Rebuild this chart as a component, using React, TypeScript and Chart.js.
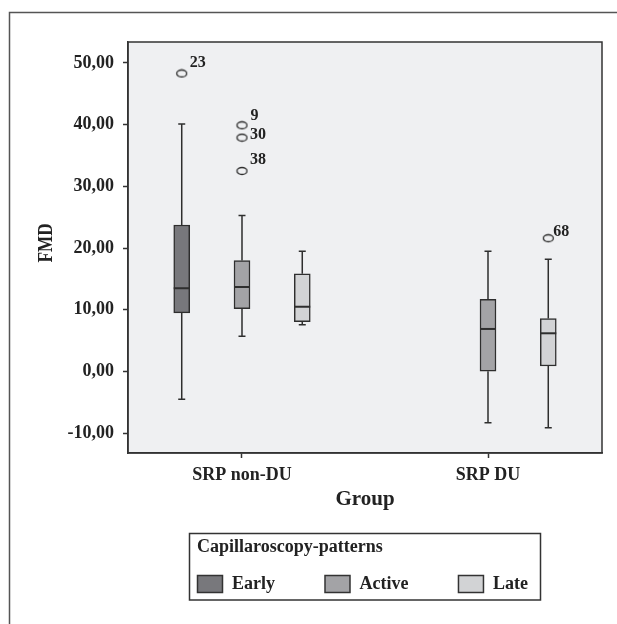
import React, { useEffect, useRef } from 'react';
import { Chart, registerables } from 'chart.js';

Chart.register(...registerables);

// ---------- data ----------
const groups = ['SRP non-DU', 'SRP DU'];
const patterns = ['Early', 'Active', 'Late'];
const yTicks = [-10, 0, 10, 20, 30, 40, 50];
const xTitle = 'Group';
const yTitle = 'FMD';
const legendTitle = 'Capillaroscopy-patterns';

// per pattern, per group (null = no box)
const earlyMin = [-4.5, null];
const earlyQ1 = [9.5, null];
const earlyMedian = [13.5, null];
const earlyQ3 = [23.75, null];
const earlyMax = [40.1, null];

const activeMin = [5.7, -8.3];
const activeQ1 = [10.2, 0.05];
const activeMedian = [13.7, 6.9];
const activeQ3 = [18.0, 11.7];
const activeMax = [25.3, 19.5];

const lateMin = [7.6, -9.1];
const lateQ1 = [8.1, 0.9];
const lateMedian = [10.5, 6.2];
const lateQ3 = [15.85, 8.6];
const lateMax = [19.5, 18.2];

const outlierGroup = [0, 0, 0, 0, 1];
const outlierPattern = [0, 1, 1, 1, 2];
const outlierValue = [48.3, 39.9, 37.9, 32.5, 21.6];
const outlierLabel = ['23', '9', '30', '38', '68'];

// ---------- style ----------
const FONT = "'Liberation Serif', 'Times New Roman', serif";
const TEXT = '#222222';
const LINE = '#2e2e2e';
const FILLS = ['#78787c', '#a3a3a6', '#d2d3d5'];
const SLOT = [-0.245, 0, 0.245];
const BOX_PX = 16;
const CAP_PX = 7;
const LABEL_DX = [8, 8.5, 8, 8, 5];
const LABEL_DY = [-6, -5, 1, -6.5, -2.5];

const stats = [
  { min: earlyMin, q1: earlyQ1, med: earlyMedian, q3: earlyQ3, max: earlyMax },
  { min: activeMin, q1: activeQ1, med: activeMedian, q3: activeQ3, max: activeMax },
  { min: lateMin, q1: lateQ1, med: lateMedian, q3: lateQ3, max: lateMax },
];

function xPos(group: number, pattern: number) {
  return group + 1 + SLOT[pattern];
}

function makeEllipse() {
  const c = document.createElement('canvas');
  c.width = 13;
  c.height = 10;
  const g = c.getContext('2d')!;
  g.strokeStyle = LINE;
  g.lineWidth = 1.3;
  g.beginPath();
  g.ellipse(6.5, 5, 5, 3.5, 0, 0, Math.PI * 2);
  g.stroke();
  return c;
}

const extrasPlugin = {
  id: 'boxExtras',
  beforeDraw(chart: any) {
    const { ctx, chartArea: a } = chart;
    ctx.save();
    ctx.fillStyle = '#ffffff';
    ctx.fillRect(0, 0, chart.width, chart.height);
    ctx.fillStyle = '#eff0f2';
    ctx.fillRect(a.left, a.top, a.right - a.left, a.bottom - a.top);
    // outer frame (left + top)
    ctx.strokeStyle = '#555555';
    ctx.lineWidth = 1.5;
    ctx.beginPath();
    ctx.moveTo(9.5, chart.height);
    ctx.lineTo(9.5, 12.5);
    ctx.lineTo(chart.width, 12.5);
    ctx.stroke();
    ctx.restore();
  },
  afterDatasetsDraw(chart: any) {
    const { ctx, chartArea: a } = chart;
    const xs = chart.scales.x;
    const ys = chart.scales.y;
    ctx.save();
    ctx.strokeStyle = LINE;
    stats.forEach((s, p) => {
      groups.forEach((_, gi) => {
        if (s.q1[gi] == null) return;
        const cx = xs.getPixelForValue(xPos(gi, p));
        const yMin = ys.getPixelForValue(s.min[gi]);
        const yQ1 = ys.getPixelForValue(s.q1[gi]);
        const yMed = ys.getPixelForValue(s.med[gi]);
        const yQ3 = ys.getPixelForValue(s.q3[gi]);
        const yMax = ys.getPixelForValue(s.max[gi]);
        ctx.lineWidth = 1.5;
        ctx.beginPath();
        ctx.moveTo(cx, yQ3);
        ctx.lineTo(cx, yMax);
        ctx.moveTo(cx, yQ1);
        ctx.lineTo(cx, yMin);
        ctx.moveTo(cx - CAP_PX / 2, yMax);
        ctx.lineTo(cx + CAP_PX / 2, yMax);
        ctx.moveTo(cx - CAP_PX / 2, yMin);
        ctx.lineTo(cx + CAP_PX / 2, yMin);
        ctx.stroke();
        ctx.lineWidth = 2;
        ctx.beginPath();
        ctx.moveTo(cx - BOX_PX / 2, yMed);
        ctx.lineTo(cx + BOX_PX / 2, yMed);
        ctx.stroke();
      });
    });
    // outlier labels
    ctx.fillStyle = TEXT;
    ctx.font = `bold 16px ${FONT}`;
    ctx.textAlign = 'left';
    ctx.textBaseline = 'alphabetic';
    outlierValue.forEach((v, i) => {
      const px = xs.getPixelForValue(xPos(outlierGroup[i], outlierPattern[i]));
      const py = ys.getPixelForValue(v);
      ctx.fillText(outlierLabel[i], px + LABEL_DX[i], py + LABEL_DY[i]);
    });
    // plot frame
    ctx.strokeStyle = '#333333';
    ctx.lineWidth = 1.5;
    ctx.strokeRect(a.left, a.top, a.right - a.left, a.bottom - a.top);
    ctx.restore();
  },
  afterDraw(chart: any) {
    const { ctx } = chart;
    ctx.save();
    // y axis title (rotated, slightly condensed like the original)
    ctx.fillStyle = TEXT;
    ctx.translate(46, 243);
    ctx.rotate(-Math.PI / 2);
    ctx.scale(0.82, 1);
    ctx.font = `bold 21px ${FONT}`;
    ctx.textAlign = 'center';
    ctx.textBaseline = 'middle';
    ctx.fillText(yTitle, 0, 1);
    ctx.restore();

    ctx.save();
    // legend box
    const L = 189.5, T = 533.5, R = 540.5, B = 600;
    ctx.fillStyle = '#ffffff';
    ctx.fillRect(L, T, R - L, B - T);
    ctx.strokeStyle = '#333333';
    ctx.lineWidth = 1.5;
    ctx.strokeRect(L, T, R - L, B - T);
    ctx.fillStyle = TEXT;
    ctx.font = `bold 18px ${FONT}`;
    ctx.textAlign = 'left';
    ctx.textBaseline = 'alphabetic';
    ctx.fillText(legendTitle, 197, 552);
    let x = 197.5;
    patterns.forEach((name, i) => {
      ctx.fillStyle = FILLS[i];
      ctx.fillRect(x, 575.5, 25, 17);
      ctx.strokeStyle = '#333333';
      ctx.lineWidth = 1.5;
      ctx.strokeRect(x, 575.5, 25, 17);
      ctx.fillStyle = TEXT;
      ctx.fillText(name, x + 34.5, 588.5);
      x = x + 34.5 + ctx.measureText(name).width + 50;
    });
    ctx.restore();
  },
};

export default function App() {
  const ref = useRef<HTMLCanvasElement | null>(null);

  useEffect(() => {
    document.body.style.margin = '0';
    document.body.style.overflow = 'hidden';
    const canvas = ref.current!;
    const ellipse = makeEllipse();

    const boxDatasets = stats.map((s, p) => ({
      type: 'bar' as const,
      label: patterns[p],
      data: groups
        .map((_, gi) => (s.q1[gi] == null ? null : { x: xPos(gi, p), y: [s.q1[gi], s.q3[gi]] }))
        .filter((d) => d !== null),
      backgroundColor: FILLS[p],
      borderColor: LINE,
      borderWidth: 1.5,
      borderSkipped: false,
      barThickness: BOX_PX,
      grouped: false,
    }));

    const outlierDataset = {
      type: 'scatter' as const,
      label: 'outliers',
      data: outlierValue.map((v, i) => ({ x: xPos(outlierGroup[i], outlierPattern[i]), y: v })),
      pointStyle: ellipse,
      pointRadius: 5,
      showLine: false,
    };

    const tickFont = { family: FONT, size: 18, weight: 'bold' as const };

    const chart = new Chart(canvas, {
      type: 'bar',
      data: { datasets: [...boxDatasets, outlierDataset] as any },
      options: {
        animation: false,
        responsive: false,
        maintainAspectRatio: false,
        layout: { padding: { left: 0, top: 42, right: 15, bottom: 113.5 } },
        plugins: { legend: { display: false }, tooltip: { enabled: false } },
        scales: {
          x: {
            type: 'linear',
            min: 0.5366,
            max: 2.4634,
            offset: false,
            afterBuildTicks: (s: any) => {
              s.ticks = groups.map((_, i) => ({ value: i + 1 }));
            },
            afterFit: (s: any) => {
              s.height = 57.5;
            },
            ticks: {
              callback: (v: any) => groups[Math.round(Number(v)) - 1] ?? '',
              font: tickFont,
              color: TEXT,
              padding: 7,
              maxRotation: 0,
              autoSkip: false,
            },
            grid: {
              display: true,
              drawOnChartArea: false,
              drawTicks: true,
              tickLength: 5,
              tickWidth: 1.5,
              tickColor: '#333333',
              offset: false,
            },
            border: { display: true, color: '#333333', width: 1.5 },
            title: {
              display: true,
              text: xTitle,
              color: TEXT,
              font: { family: FONT, size: 21, weight: 'bold', lineHeight: 1 },
              padding: 0,
            },
          },
          y: {
            type: 'linear',
            min: -13.2,
            max: 53.4,
            afterBuildTicks: (s: any) => {
              s.ticks = yTicks.map((v) => ({ value: v }));
            },
            afterFit: (s: any) => {
              s.width = 128;
            },
            ticks: {
              callback: (v: any) => Number(v).toFixed(2).replace('.', ','),
              font: tickFont,
              color: TEXT,
              padding: 9,
            },
            grid: {
              display: true,
              drawOnChartArea: false,
              drawTicks: true,
              tickLength: 5,
              tickWidth: 1.5,
              tickColor: '#333333',
            },
            border: { display: true, color: '#333333', width: 1.5 },
            title: { display: false },
          },
        },
      } as any,
      plugins: [extrasPlugin],
    });

    return () => chart.destroy();
  }, []);

  return (
    <div style={{ width: 617, height: 624 }}>
      <canvas ref={ref} width={617} height={624} style={{ display: 'block' }} />
    </div>
  );
}
